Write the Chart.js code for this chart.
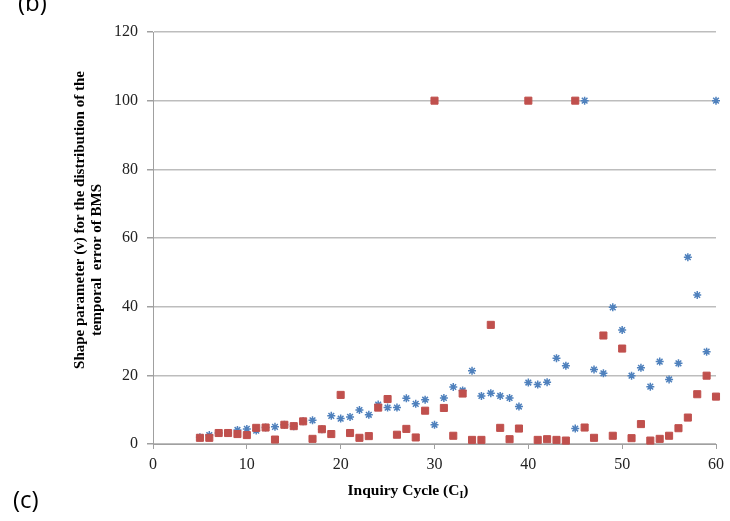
<!DOCTYPE html>
<html>
<head>
<meta charset="utf-8">
<script src="https://cdn.jsdelivr.net/npm/chart.js@4"></script>
<style>
  html, body { margin: 0; padding: 0; background: #fff; }
  #wrap { position: relative; width: 730px; height: 521px; }
</style>
</head>
<body>
<div id="wrap"><canvas id="shapeChart" width="730" height="521"></canvas></div>
<script>
/* =========================
   DATA
========================= */

const cycles = [5, 6, 7, 8, 9, 10, 11, 12, 13, 14, 15, 16, 17, 18, 19, 20,
  21, 22, 23, 24, 25, 26, 27, 28, 29, 30, 31, 32, 33, 34, 35, 36, 37, 38, 39, 40,
  41, 42, 43, 44, 45, 46, 47, 48, 49, 50, 51, 52, 53, 54, 55, 56, 57, 58, 59, 60];

const redValues = [1.8, 1.8, 3.2, 3.2, 2.9, 2.6, 4.7, 4.8, 1.3, 5.6, 5.2, 6.6, 1.5, 4.3, 2.9, 14.3,
  3.2, 1.8, 2.3, 10.6, 13.1, 2.7, 4.4, 1.9, 9.7, 100, 10.5, 2.4, 14.7, 1.2, 1.2, 34.7, 4.7, 1.4, 4.5, 100,
  1.2, 1.4, 1.2, 1.0, 100, 4.8, 1.8, 31.6, 2.4, 27.8, 1.7, 5.8, 1.0, 1.5, 2.4, 4.6, 7.7, 14.5, 19.9, 13.8];

const blueValues = [2.0, 2.6, 3.2, 3.2, 4.1, 4.4, 3.9, 4.8, 5.0, 5.6, 5.2, 6.6, 6.9, 4.3, 8.2, 7.4,
  7.9, 9.9, 8.5, 11.5, 10.6, 10.6, 13.3, 11.7, 12.9, 5.6, 13.4, 16.6, 15.6, 21.3, 14.0, 14.8, 14.0, 13.4, 10.9, 17.9,
  17.3, 18.0, 25.0, 22.8, 4.5, 100, 21.7, 20.6, 39.8, 33.2, 19.9, 22.2, 16.7, 24.0, 18.8, 23.5, 54.4, 43.4, 26.9, 100];

const xTicks = [0, 10, 20, 30, 40, 50, 60];
const yTicks = [0, 20, 40, 60, 80, 100, 120];

const yTitleLines = ["Shape parameter (v) for the distribution of the", "temporal  error of BMS"];
const xTitleMain = "Inquiry Cycle (C";
const xTitleSub = "I";
const xTitleEnd = ")";

/* =========================
   TITLES PLUGIN
========================= */

const serif = '"Liberation Serif", "DejaVu Serif", serif';

const titlesPlugin = {
  id: "titles",
  afterDraw(chart) {
    const ctx = chart.ctx;
    ctx.save();
    ctx.fillStyle = "#000";

    // y title, two rotated lines
    ctx.font = "bold 15px " + serif;
    ctx.textAlign = "center";
    ctx.textBaseline = "middle";
    const yCenters = [[80, 220], [97, 260]];
    yTitleLines.forEach((line, i) => {
      ctx.save();
      ctx.translate(yCenters[i][0], yCenters[i][1]);
      ctx.rotate(-Math.PI / 2);
      ctx.fillText(line, 0, 0);
      ctx.restore();
    });

    // x title with subscript
    ctx.textAlign = "left";
    ctx.textBaseline = "alphabetic";
    ctx.font = "bold 15.5px " + serif;
    const wMain = ctx.measureText(xTitleMain).width;
    ctx.font = "bold 10px " + serif;
    const wSub = ctx.measureText(xTitleSub).width;
    ctx.font = "bold 15.5px " + serif;
    const wEnd = ctx.measureText(xTitleEnd).width;
    let x = 408 - (wMain + wSub + wEnd) / 2;
    const base = 495;
    ctx.fillText(xTitleMain, x, base);
    x += wMain;
    ctx.font = "bold 10px " + serif;
    ctx.fillText(xTitleSub, x, base + 3);
    x += wSub;
    ctx.font = "bold 15.5px " + serif;
    ctx.fillText(xTitleEnd, x, base);

    // panel letters
    ctx.font = '24px "Open Sans", "Noto Sans", sans-serif';
    ctx.fillText("(b)", 18, 11);
    ctx.fillText("(c)", 13, 508);
    ctx.restore();
  }
};

/* =========================
   CHART
========================= */

const toPoints = vals => cycles.map((c, i) => ({ x: c, y: vals[i] }));

new Chart(document.getElementById("shapeChart"), {
  type: "scatter",
  data: {
    datasets: [
      {
        label: "blue",
        data: toPoints(blueValues),
        pointStyle: "star",
        pointRadius: 4,
        borderColor: "#4F81BD",
        backgroundColor: "#4F81BD",
        borderWidth: 1.5,
        clip: false,
        order: 2
      },
      {
        label: "red",
        data: toPoints(redValues),
        pointStyle: "rect",
        pointRadius: 5,
        borderColor: "#C0504D",
        backgroundColor: "#C0504D",
        borderWidth: 1,
        clip: false,
        order: 1
      }
    ]
  },
  options: {
    responsive: false,
    animation: false,
    layout: { padding: { top: 32, right: 14, bottom: 0, left: 0 } },
    plugins: {
      legend: { display: false },
      tooltip: { enabled: false }
    },
    scales: {
      x: {
        type: "linear",
        min: 0,
        max: 60,
        afterBuildTicks: s => { s.ticks = xTicks.map(v => ({ value: v })); },
        afterFit: s => { s.height = 77; },
        grid: { drawOnChartArea: false, drawTicks: true, tickLength: 5, color: "#a0a0a0" },
        border: { display: true, color: "#a0a0a0", width: 1 },
        ticks: { color: "#222", font: { family: serif, size: 16 }, padding: 6 }
      },
      y: {
        min: 0,
        max: 120,
        afterBuildTicks: s => { s.ticks = yTicks.map(v => ({ value: v })); },
        afterFit: s => { s.width = 153; },
        grid: { color: "#bdbdbd", lineWidth: 1.5, tickLength: 6, tickColor: "#a0a0a0" },
        border: { display: true, color: "#a0a0a0", width: 1 },
        ticks: { color: "#222", font: { family: serif, size: 16 }, padding: 9 }
      }
    }
  },
  plugins: [titlesPlugin]
});
</script>
</body>
</html>
